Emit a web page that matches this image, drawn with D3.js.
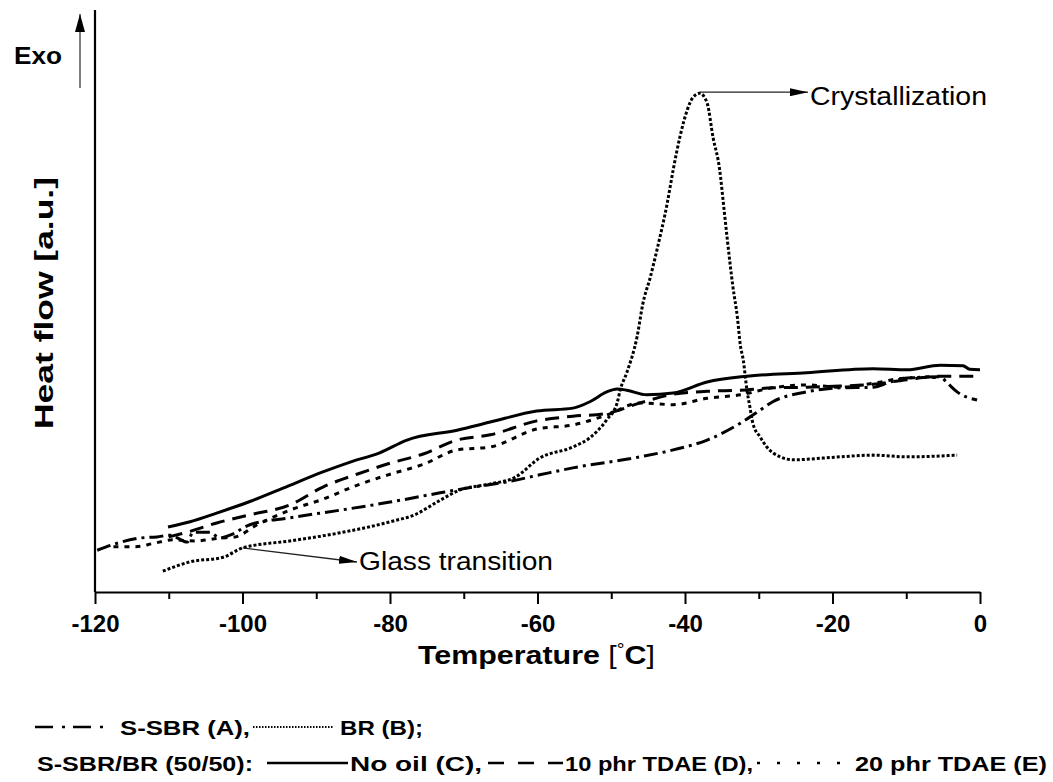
<!DOCTYPE html>
<html>
<head>
<meta charset="utf-8">
<script src="https://cdn.jsdelivr.net/npm/d3@7/dist/d3.min.js"></script>
<style>
  html, body { margin: 0; padding: 0; background: #fff; }
  svg { display: block; font-family: "Liberation Sans", Arial, Helvetica, sans-serif; }
</style>
</head>
<body>
<svg id="chart" width="1053" height="782"></svg>
<script>
// DSC heating scans: temperature [°C] vs heat flow [a.u.]
const xTicksMajor = [-120, -100, -80, -60, -40, -20, 0];
const xTicksMinor = [-110, -90, -70, -50, -30, -10];

// S-SBR (A)
const sSBR = [
  [-119.7, 7.2], [-117.0, 8.4], [-113.9, 9.3], [-111.6, 9.5], [-109.8, 9.8],
  [-107.5, 8.6], [-106.7, 10.3], [-104.4, 10.3], [-103.1, 9.3], [-101.7, 9.8],
  [-99.0, 11.6], [-93.6, 12.8], [-86.8, 14.1], [-80.0, 15.5], [-73.2, 17.1],
  [-68.7, 18.1], [-64.1, 19.0], [-59.7, 20.2], [-55.2, 21.4], [-46.1, 23.3],
  [-41.6, 24.5], [-37.0, 26.2], [-32.5, 29.1], [-30.2, 31.0], [-28.1, 32.8],
  [-23.5, 34.5], [-19.0, 35.2], [-14.5, 35.3], [-12.2, 36.2], [-9.9, 36.9],
  [-5.4, 37.1], [-4.4, 36.0], [-3.1, 34.5], [-0.4, 33.1]
];

// BR (B)
const br = [
  [-110.8, 3.6], [-107.1, 5.2], [-102.6, 6.0], [-100.0, 7.6], [-93.6, 8.8],
  [-86.8, 10.2], [-80.0, 12.1], [-76.5, 13.4], [-73.5, 15.6], [-70.5, 17.6],
  [-66.5, 18.6], [-63.0, 19.8], [-59.7, 23.1], [-55.2, 25.0], [-52.9, 26.6],
  [-50.6, 29.7], [-49.2, 32.6], [-48.8, 34.8], [-47.9, 37.8], [-46.5, 44.0],
  [-45.7, 49.8], [-44.7, 54.3], [-43.8, 59.0], [-42.4, 67.1], [-41.6, 72.8],
  [-40.7, 78.4], [-39.7, 83.1], [-38.9, 85.3], [-38.0, 86.0], [-37.0, 84.3],
  [-36.2, 78.4], [-35.3, 72.8], [-34.8, 67.1], [-34.3, 61.2], [-33.5, 52.6],
  [-32.9, 47.4], [-32.5, 42.6], [-32.1, 40.0], [-31.6, 34.8], [-31.2, 31.9],
  [-30.8, 29.1], [-29.8, 26.7], [-28.9, 25.0], [-27.1, 23.3], [-25.4, 22.8],
  [-19.0, 23.3], [-14.5, 23.6], [-9.9, 23.3], [-3.1, 23.6]
];

// S-SBR/BR (50/50), no oil (C)
const blendNoOil = [
  [-110.1, 11.2], [-107.1, 12.1], [-103.5, 13.6], [-99.0, 15.6], [-94.5, 17.9],
  [-89.1, 20.7], [-85.4, 22.4], [-81.4, 24.0], [-77.7, 26.2], [-70.9, 27.9],
  [-66.4, 29.3], [-60.1, 31.2], [-55.2, 31.7], [-52.9, 32.8], [-50.6, 34.5],
  [-49.2, 35.0], [-47.9, 34.8], [-45.2, 34.0], [-41.6, 34.3], [-37.0, 36.2],
  [-31.6, 37.2], [-23.5, 37.8], [-14.5, 38.5], [-9.9, 38.3], [-5.4, 39.1],
  [-2.3, 39.0], [-1.4, 38.4], [0, 38.3]
];

// S-SBR/BR (50/50), 10 phr TDAE (D)
const blendTdae10 = [
  [-110.0, 9.5], [-107.0, 10.5], [-103.5, 11.9], [-99.0, 13.3], [-93.6, 15.0],
  [-89.1, 18.1], [-84.5, 20.3], [-80.0, 22.2], [-75.5, 23.8], [-70.9, 26.2],
  [-66.4, 27.1], [-60.1, 29.5], [-55.2, 30.3], [-50.6, 30.8], [-46.1, 32.6],
  [-41.6, 34.1], [-37.0, 34.6], [-32.5, 34.8], [-28.1, 35.2], [-23.5, 35.3],
  [-19.0, 35.5], [-14.5, 35.8], [-9.9, 36.6], [-5.4, 37.2], [0, 37.2]
];

// S-SBR/BR (50/50), 20 phr TDAE (E)
const blendTdae20 = [
  [-117.5, 7.8], [-114.5, 7.8], [-112.0, 8.4], [-109.5, 9.0], [-106.5, 8.8],
  [-103.0, 9.3], [-101.0, 9.5], [-98.0, 11.6], [-93.6, 14.1], [-89.1, 16.0],
  [-84.5, 18.4], [-80.0, 20.3], [-75.5, 22.0], [-70.9, 24.5], [-66.4, 25.0],
  [-60.1, 28.1], [-55.2, 28.8], [-50.6, 30.5], [-46.1, 32.6], [-41.6, 32.3],
  [-37.0, 33.4], [-32.5, 34.0], [-28.1, 35.2], [-23.5, 35.7], [-19.0, 35.3],
  [-14.5, 36.0], [-9.9, 36.9], [-6.0, 37.0]
];

// annotated points on the BR curve
const glassPoint = [-100.0, 7.6];
const crystPoint = [-38.0, 86.0];

const svg = d3.select("#chart");
const x = d3.scaleLinear().domain([-120, 0]).range([95, 980]);
const y = d3.scaleLinear().domain([0, 100]).range([592, 12]);

const line = d3.line()
  .x(d => x(d[0]))
  .y(d => y(d[1]))
  .curve(d3.curveMonotoneX);

// arrow markers
const defs = svg.append("defs");
defs.append("marker")
  .attr("id", "head")
  .attr("viewBox", "0 0 18 8")
  .attr("refX", 18).attr("refY", 4)
  .attr("markerWidth", 18).attr("markerHeight", 8)
  .attr("markerUnits", "userSpaceOnUse")
  .attr("orient", "auto")
  .append("path").attr("d", "M0,0 L18,4 L0,8 Z").attr("fill", "#000");
defs.append("marker")
  .attr("id", "headUp")
  .attr("viewBox", "0 0 10 18")
  .attr("refX", 5).attr("refY", 0)
  .attr("markerWidth", 10).attr("markerHeight", 18)
  .attr("markerUnits", "userSpaceOnUse")
  .attr("orient", "0")
  .append("path").attr("d", "M5,0 L10,18 L0,18 Z").attr("fill", "#000");

// axes
const xAxis = svg.append("g")
  .attr("transform", `translate(0,${y(0)})`)
  .call(d3.axisBottom(x).tickValues(xTicksMajor).tickSize(12).tickSizeOuter(0)
    .tickFormat(d3.format("d")));
xAxis.select(".domain").attr("stroke", "#000").attr("stroke-width", 2.2);
xAxis.selectAll(".tick line").attr("stroke", "#000").attr("stroke-width", 2);
xAxis.selectAll(".tick text")
  .attr("y", 40).attr("dy", 0)
  .attr("fill", "#000")
  .style("font-family", '"Liberation Sans", Arial, sans-serif')
  .style("font-size", "24px").style("font-weight", "bold")
  .text(d => String(d));

const xMinor = svg.append("g")
  .attr("transform", `translate(0,${y(0)})`)
  .call(d3.axisBottom(x).tickValues(xTicksMinor).tickSize(7).tickSizeOuter(0).tickFormat(""));
xMinor.select(".domain").remove();
xMinor.selectAll(".tick line").attr("stroke", "#000").attr("stroke-width", 2);

const yAxis = svg.append("g")
  .attr("transform", `translate(${x(-120)},0)`)
  .call(d3.axisLeft(y).tickValues([]).tickSizeOuter(0));
yAxis.select(".domain").attr("stroke", "#000").attr("stroke-width", 2.2)
  .attr("d", `M0,${y(0)}V${y(100) - 2}`);

// curves
const series = [
  { data: sSBR,        dash: "14,5,3,5" },
  { data: br,          dash: "3,2" },
  { data: blendNoOil,  dash: null },
  { data: blendTdae10, dash: "14,8" },
  { data: blendTdae20, dash: "5,6" }
];
svg.append("g").selectAll("path")
  .data(series)
  .join("path")
  .attr("d", d => line(d.data))
  .attr("fill", "none")
  .attr("stroke", "#000")
  .attr("stroke-width", 3)
  .attr("stroke-linejoin", "round")
  .attr("stroke-dasharray", d => d.dash);

// annotations
svg.append("line")
  .attr("x1", x(glassPoint[0])).attr("y1", y(glassPoint[1]))
  .attr("x2", 357).attr("y2", 562)
  .attr("stroke", "#222").attr("stroke-width", 1.3)
  .attr("marker-end", "url(#head)");
svg.append("text")
  .attr("x", 359).attr("y", 570)
  .attr("font-size", 25).attr("textLength", 194).attr("lengthAdjust", "spacingAndGlyphs")
  .text("Glass transition");

svg.append("line")
  .attr("x1", x(crystPoint[0])).attr("y1", y(crystPoint[1]) - 1)
  .attr("x2", 808).attr("y2", y(crystPoint[1]) - 1)
  .attr("stroke", "#222").attr("stroke-width", 1.3)
  .attr("marker-end", "url(#head)");
svg.append("text")
  .attr("x", 810).attr("y", 105)
  .attr("font-size", 25).attr("textLength", 177).attr("lengthAdjust", "spacingAndGlyphs")
  .text("Crystallization");

// Exo direction
svg.append("line")
  .attr("x1", 80).attr("y1", 88).attr("x2", 80).attr("y2", 14)
  .attr("stroke", "#555").attr("stroke-width", 1.5)
  .attr("marker-end", "url(#headUp)");
svg.append("text")
  .attr("x", 14).attr("y", 64)
  .attr("font-size", 23).attr("font-weight", "bold")
  .attr("textLength", 48).attr("lengthAdjust", "spacingAndGlyphs")
  .text("Exo");

// axis titles
svg.append("text")
  .attr("transform", "translate(53,303) rotate(-90)")
  .attr("text-anchor", "middle")
  .attr("font-size", 25).attr("font-weight", "bold")
  .attr("textLength", 252).attr("lengthAdjust", "spacingAndGlyphs")
  .text("Heat flow [a.u.]");

const xt = svg.append("text")
  .attr("x", 418).attr("y", 664)
  .attr("font-size", 25)
  .attr("textLength", 237).attr("lengthAdjust", "spacingAndGlyphs");
xt.append("tspan").attr("font-weight", "bold").text("Temperature ");
xt.append("tspan").text("[");
xt.append("tspan").attr("font-size", 16).attr("dy", -9).text("°");
xt.append("tspan").attr("font-weight", "bold").attr("dy", 9).text("C");
xt.append("tspan").text("]");

// legend
const legend = svg.append("g").attr("font-size", 21).attr("font-weight", "bold");
const sample = (x1, x2, yy, dash, w) => legend.append("line")
  .attr("x1", x1).attr("x2", x2).attr("y1", yy).attr("y2", yy)
  .attr("stroke", "#000").attr("stroke-width", w).attr("stroke-dasharray", dash);
const label = (x0, yy, len, txt) => legend.append("text")
  .attr("x", x0).attr("y", yy)
  .attr("textLength", len).attr("lengthAdjust", "spacingAndGlyphs")
  .text(txt);

sample(35, 108, 727, "18,9,3,8", 2.5);
label(120, 735, 130, "S-SBR (A),");
sample(253, 333, 727, "1.5,1.5", 2);
label(340, 735, 83, "BR (B);");

label(37, 771, 216, "S-SBR/BR (50/50):");
sample(267, 348, 763, null, 2.5);
label(350, 771, 132, "No oil (C),");
sample(488, 563, 763, "16,14", 2.5);
label(565, 771, 188, "10 phr TDAE (D),");
sample(757, 853, 763, "3,17", 2.5);
label(855, 771, 192, "20 phr TDAE (E)");
</script>
</body>
</html>
